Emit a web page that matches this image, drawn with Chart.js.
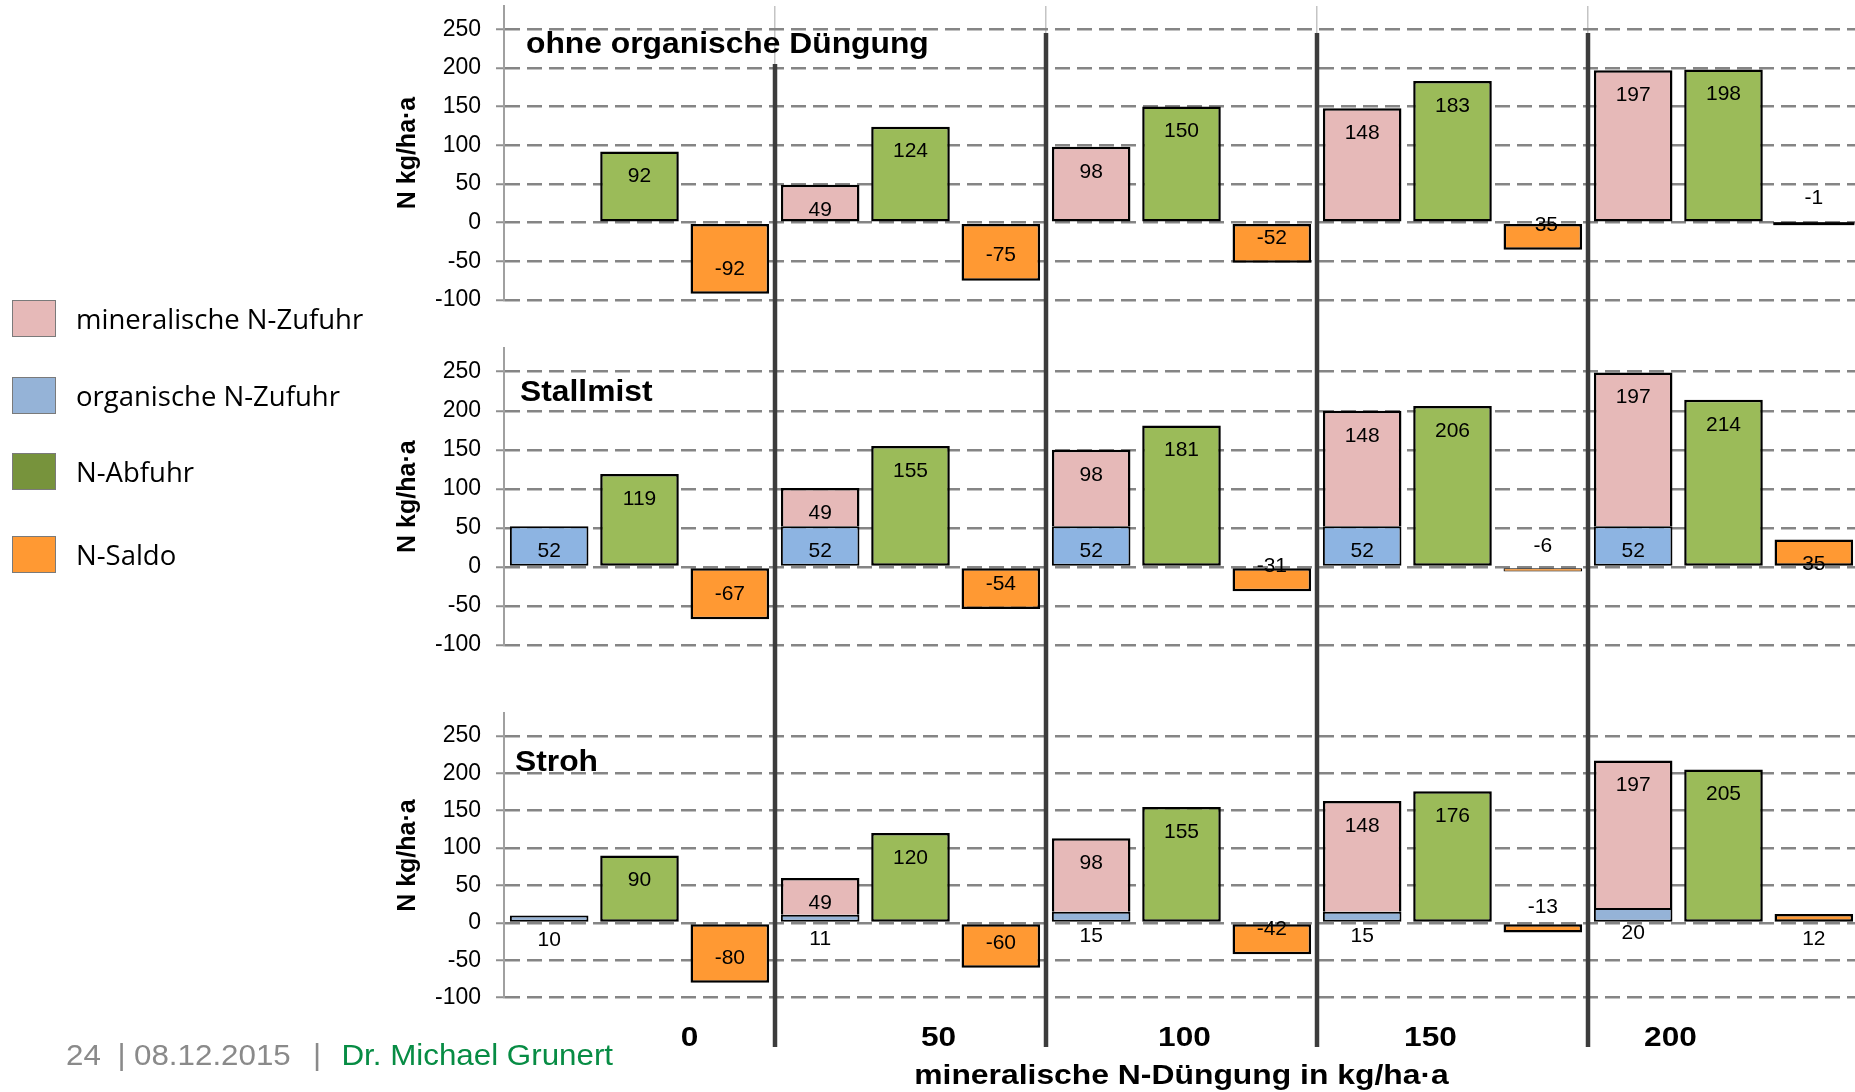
<!DOCTYPE html>
<html lang="de">
<head>
<meta charset="utf-8">
<title>N-Bilanz bei mineralischer und organischer Düngung</title>
<script src="https://cdn.jsdelivr.net/npm/chart.js@4.4.1/dist/chart.umd.min.js"></script>
<style>
  html, body { margin: 0; padding: 0; background: #fff; overflow: hidden; }
  #page { position: relative; width: 1855px; height: 1092px; overflow: hidden; background: #fff; }
  canvas.panel { position: absolute; left: 0; }
  .legend-item { position: absolute; left: 0; height: 40px; display: flex; align-items: center; }
  .legend-item .swatch { width: 44px; height: 37px; box-sizing: border-box; border: 1.5px solid #7a7a7a; margin-left: 12px; }
  .legend-item .text { margin-left: 20px; font-family: "Open Sans", sans-serif; font-size: 27.5px; color: #000; white-space: nowrap; }
</style>
</head>
<body>
<div id="page">
  <canvas id="pOhne" class="panel" width="1860" height="324" style="top:0px"></canvas>
  <canvas id="pStall" class="panel" width="1860" height="355" style="top:324px"></canvas>
  <canvas id="pStroh" class="panel" width="1860" height="413" style="top:679px"></canvas>
  <div id="legend"></div>
</div>
<script>
// Mineral N dose levels (kg/ha·a) along the x axis
const doses = ['0', '50', '100', '150', '200'];
const yTickValues = [-100, -50, 0, 50, 100, 150, 200, 250];
const seriesNames = ['mineralische N-Zufuhr', 'organische N-Zufuhr', 'N-Abfuhr', 'N-Saldo'];
const panelTitles = ['ohne organische Düngung', 'Stallmist', 'Stroh'];
const xAxisTitle = 'mineralische N-Düngung in kg/ha·a';
const yAxisTitle = 'N kg/ha·a';

// ohne organische Düngung
const ohneMineral   = [null, 49, 98, 148, 197];
const ohneOrganisch = [null, null, null, null, null];
const ohneAbfuhr    = [92, 124, 150, 183, 198];
const ohneSaldo     = [-92, -75, -52, -35, -1];

// Stallmist
const stallMineral   = [null, 49, 98, 148, 197];
const stallOrganisch = [52, 52, 52, 52, 52];
const stallAbfuhr    = [119, 155, 181, 206, 214];
const stallSaldo     = [-67, -54, -31, -6, 35];

// Stroh
const strohMineral   = [null, 49, 98, 148, 197];
const strohOrganisch = [10, 11, 15, 15, 20];
const strohAbfuhr    = [90, 120, 155, 176, 205];
const strohSaldo     = [-80, -60, -42, -13, 12];

const footerParts = ['24', '|', '08.12.2015', '|', 'Dr. Michael Grunert'];

// ---- styling ----
const COL = { mineral: '#E6B9B8', abfuhr: '#9BBB59', saldo: '#FF9933' };
const LEGEND_COL = ['#E6B9B8', '#95B3D7', '#77933C', '#FF9933'];
const FONT = '"Liberation Sans", Arial, sans-serif';
const EDGE = 2.5;
Chart.defaults.font.family = FONT;
Chart.defaults.color = '#000';

const panels = [
  { id: 'pOhne', title: panelTitles[0], mineral: ohneMineral, organic: ohneOrganisch, abfuhr: ohneAbfuhr, saldo: ohneSaldo,
    organicColor: '#8DB4E2', area: [6, 300], height: 324, titleAt: [526, 53], sepTop: [64, 33, 33, 33], sepBottom: 324 },
  { id: 'pStall', title: panelTitles[1], mineral: stallMineral, organic: stallOrganisch, abfuhr: stallAbfuhr, saldo: stallSaldo,
    organicColor: '#8DB4E2', area: [24.3, 321], height: 355, titleAt: [520, 76.7], sepTop: [0, 0, 0, 0], sepBottom: 355 },
  { id: 'pStroh', title: panelTitles[2], mineral: strohMineral, organic: strohOrganisch, abfuhr: strohAbfuhr, saldo: strohSaldo,
    organicColor: '#95B3D7', area: [34.4, 318.7], height: 413, titleAt: [515, 91.7], sepTop: [0, 0, 0, 0], sepBottom: 368, bottomRow: true }
];

// horizontal shift of the dose captions under the bottom panel
const doseCaptionShift = [50, 28, 3, -22, -53];

function stretchedText(ctx, text, x, y, font, color, align, sx) {
  ctx.save();
  ctx.font = font;
  ctx.fillStyle = color;
  ctx.textBaseline = 'alphabetic';
  ctx.textAlign = align;
  ctx.translate(x, y);
  ctx.scale(sx, 1);
  ctx.fillText(text, 0, 0);
  ctx.restore();
}

const panelDecor = {
  id: 'panelDecor',
  afterDatasetsDraw(chart, args, opts) {
    const p = opts.panel;
    const ctx = chart.ctx;
    const xs = chart.scales.x;

    // very flat bars: outline them so they stay visible as a line
    chart.data.datasets.forEach((ds, di) => {
      chart.getDatasetMeta(di).data.forEach((bar, i) => {
        if (ds.data[i] === null || ds.data[i] === undefined) return;
        const b = bar.getProps(['x', 'y', 'base', 'width'], true);
        if (Math.abs(b.base - b.y) < 2) {
          ctx.save();
          ctx.strokeStyle = '#000';
          ctx.lineWidth = EDGE;
          ctx.strokeRect(b.x - b.width / 2, Math.min(b.y, b.base), b.width, Math.abs(b.base - b.y));
          ctx.restore();
        }
      });
    });

    // dark separators between dose groups
    ctx.save();
    ctx.strokeStyle = '#3c3c3c';
    ctx.lineWidth = 4.5;
    for (let i = 1; i < doses.length; i++) {
      const bx = (xs.getPixelForValue(i - 1) + xs.getPixelForValue(i)) / 2;
      ctx.beginPath();
      ctx.moveTo(bx, p.sepTop[i - 1]);
      ctx.lineTo(bx, p.sepBottom);
      ctx.stroke();
    }
    ctx.restore();

    // value labels at the inner end of each bar
    ctx.save();
    ctx.font = '21px ' + FONT;
    ctx.fillStyle = '#000';
    ctx.textAlign = 'center';
    ctx.textBaseline = 'middle';
    chart.data.datasets.forEach((ds, di) => {
      const meta = chart.getDatasetMeta(di);
      meta.data.forEach((bar, i) => {
        const v = ds.data[i];
        if (v === null || v === undefined) return;
        const pr = bar.getProps(['x', 'y'], true);
        const ly = v >= 0 ? pr.y + 25 : pr.y - 25;
        ctx.fillText(String(v), pr.x, ly);
      });
    });
    ctx.restore();

    // panel title
    stretchedText(ctx, p.title, p.titleAt[0], p.titleAt[1], 'bold 30px ' + FONT, '#000', 'left', 1.06);

    if (p.bottomRow) {
      const area = chart.chartArea;
      doses.forEach((d, i) => {
        stretchedText(ctx, d, xs.getPixelForValue(i) + doseCaptionShift[i], 367, 'bold 28px ' + FONT, '#000', 'center', 1.13);
      });
      stretchedText(ctx, xAxisTitle, (area.left + area.right) / 2, 405, 'bold 27px ' + FONT, '#000', 'center', 1.18);

      const fFont = '29px ' + FONT;
      const gray = '#8a8a8a', green = '#078C44';
      const fy = 385.5;
      stretchedText(ctx, footerParts[0], 66, fy, fFont, gray, 'left', 1.08);
      stretchedText(ctx, footerParts[1], 121.5, fy, fFont, gray, 'center', 1.08);
      stretchedText(ctx, footerParts[2], 134, fy, fFont, gray, 'left', 1.08);
      stretchedText(ctx, footerParts[3], 317, fy, fFont, gray, 'center', 1.08);
      stretchedText(ctx, footerParts[4], 341.5, fy, fFont, green, 'left', 1.08);
    }
  }
};

function buildPanel(p) {
  const stackedTop = (arr) => (c) => ({ top: EDGE, right: EDGE, left: EDGE, bottom: arr[c.dataIndex] ? 0 : EDGE });
  const byValue = (c) => (Math.abs(c.raw) <= 8 ? 1.2 : EDGE);
  const datasets = [
    { label: seriesNames[1], data: p.organic, stack: 'zufuhr', backgroundColor: p.organicColor, borderWidth: 2 },
    { label: seriesNames[0], data: p.mineral, stack: 'zufuhr', backgroundColor: COL.mineral, borderWidth: stackedTop(p.organic) },
    { label: seriesNames[2], data: p.abfuhr, stack: 'abfuhr', backgroundColor: COL.abfuhr, borderWidth: EDGE },
    { label: seriesNames[3], data: p.saldo, stack: 'saldo', backgroundColor: COL.saldo, borderWidth: byValue }
  ];
  datasets.forEach(ds => {
    ds.borderColor = '#000';
    ds.borderSkipped = false;
    ds.categoryPercentage = 1.0;
    ds.barPercentage = 0.87;
  });

  return new Chart(document.getElementById(p.id), {
    type: 'bar',
    data: { labels: doses, datasets },
    plugins: [panelDecor],
    options: {
      responsive: false,
      animation: false,
      devicePixelRatio: 1,
      layout: { padding: { left: 0, right: 1, top: p.area[0], bottom: p.height - p.area[1] } },
      plugins: {
        legend: { display: false },
        tooltip: { enabled: false },
        panelDecor: { panel: p }
      },
      scales: {
        x: {
          stacked: true,
          ticks: { display: false },
          grid: {
            drawTicks: false,
            lineWidth: 1.5,
            color: (c) => c.index === 0 ? 'rgba(0,0,0,0)' : '#c4c4c4'
          },
          border: { display: false }
        },
        y: {
          stacked: true,
          min: -100,
          max: 280,
          afterBuildTicks: (s) => { s.ticks = yTickValues.map(v => ({ value: v })); },
          afterFit: (s) => { s.width = 504; s.paddingTop = 0; s.paddingBottom = 0; },
          ticks: { font: { size: 23 }, color: '#000', padding: 15 },
          grid: { color: '#858585', lineWidth: 2.5, tickLength: 8, tickColor: '#8f8f8f', tickWidth: 2 },
          border: { display: true, color: '#a0a0a0', width: 2, dash: [15, 7] },
          title: {
            display: true, text: yAxisTitle, color: '#000',
            font: { size: 25, weight: 'bold' }, padding: { top: 393, bottom: 0 }
          }
        }
      }
    }
  });
}

panels.forEach(buildPanel);

// legend on the left
const legendCenters = [318.5, 395, 471, 554.5];
const legendEl = document.getElementById('legend');
seriesNames.forEach((name, i) => {
  const item = document.createElement('div');
  item.className = 'legend-item';
  item.style.top = (legendCenters[i] - 20) + 'px';
  const sw = document.createElement('div');
  sw.className = 'swatch';
  sw.style.background = LEGEND_COL[i];
  const tx = document.createElement('div');
  tx.className = 'text';
  tx.textContent = name;
  item.appendChild(sw);
  item.appendChild(tx);
  legendEl.appendChild(item);
});
</script>
</body>
</html>
